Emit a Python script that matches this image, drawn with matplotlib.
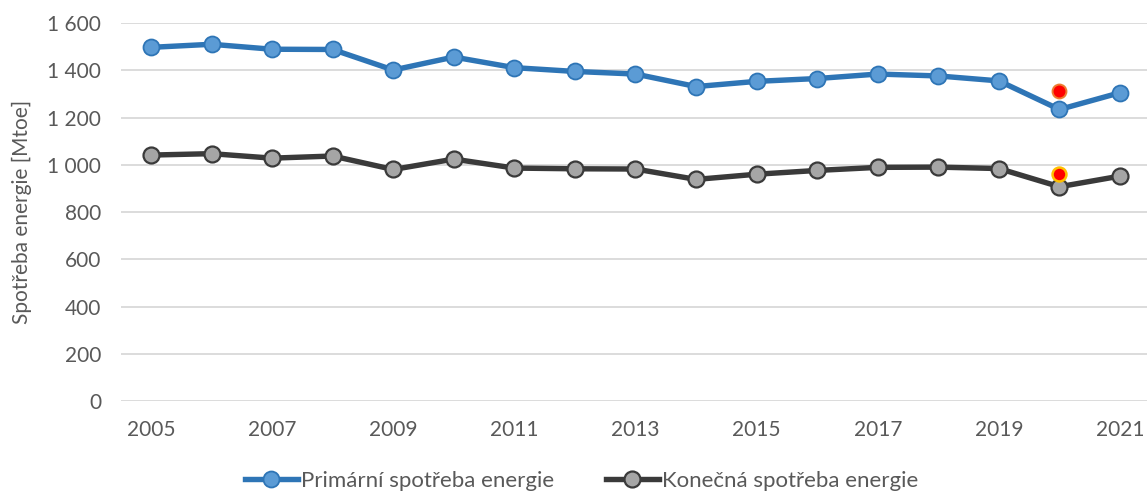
import matplotlib
matplotlib.use("Agg")
import matplotlib.pyplot as plt
from matplotlib.ticker import FuncFormatter

years = list(range(2005, 2022))
primary = [1497, 1510, 1489, 1488, 1401, 1456, 1411, 1395, 1384, 1331, 1353, 1365, 1384, 1376, 1355, 1234, 1305]
final = [1041, 1047, 1028, 1037, 980, 1024, 986, 983, 982, 938, 960, 976, 989, 990, 984, 907, 952]
target_year = [2020]
target_primary = [1312]
target_final = [959]
labels = ["Primární spotřeba energie", "Konečná spotřeba energie"]
ylabel = "Spotřeba energie [Mtoe]"

plt.rcParams['font.family'] = ['Lato', 'DejaVu Sans']
gray = '#595959'

fig = plt.figure(figsize=(11.47, 4.96), dpi=100)
ax = fig.add_axes([0.1052, 0.1915, 0.8977, 0.7621])

ax.plot(years, primary, color='#2E75B6', lw=3.9, marker='o', ms=11.5,
        mfc='#5B9BD5', mec='#2E75B6', mew=1.3, label=labels[0], zorder=3)
ax.plot(years, final, color='#3A3A3A', lw=3.9, marker='o', ms=11.5,
        mfc='#A5A5A5', mec='#3A3A3A', mew=1.6, label=labels[1], zorder=3)
ax.plot(target_year, target_primary, ls='none', marker='o', ms=10,
        mfc='#FF0000', mec='#ED7D31', mew=1.4, zorder=4)
ax.plot(target_year, target_final, ls='none', marker='o', ms=10,
        mfc='#FF0000', mec='#FFC000', mew=1.8, zorder=4)

ax.set_xlim(2004.5, 2021.5)
ax.set_ylim(0, 1600)
ax.set_yticks(range(0, 1601, 200))
ax.yaxis.set_major_formatter(FuncFormatter(lambda v, p: f"{int(v):,}".replace(",", " ")))
ax.set_xticks(years[::2])
ax.grid(axis='y', color='#D9D9D9', lw=1.3, zorder=0)
ax.set_axisbelow(True)
for s in ax.spines.values():
    s.set_visible(False)
ax.tick_params(axis='both', length=0, labelsize=15, labelcolor=gray)
ax.tick_params(axis='x', pad=14)
ax.tick_params(axis='y', pad=14)
ax.set_ylabel(ylabel, fontsize=15, color=gray)
ax.yaxis.set_label_coords(-0.086, 0.5)

leg = fig.legend(loc='lower center', bbox_to_anchor=(0.507, -0.03), ncol=2,
                 frameon=False, fontsize=16, handlelength=2.4,
                 handletextpad=0.15, columnspacing=2.3)
for t in leg.get_texts():
    t.set_color(gray)

fig.savefig("out.png", dpi=100)
